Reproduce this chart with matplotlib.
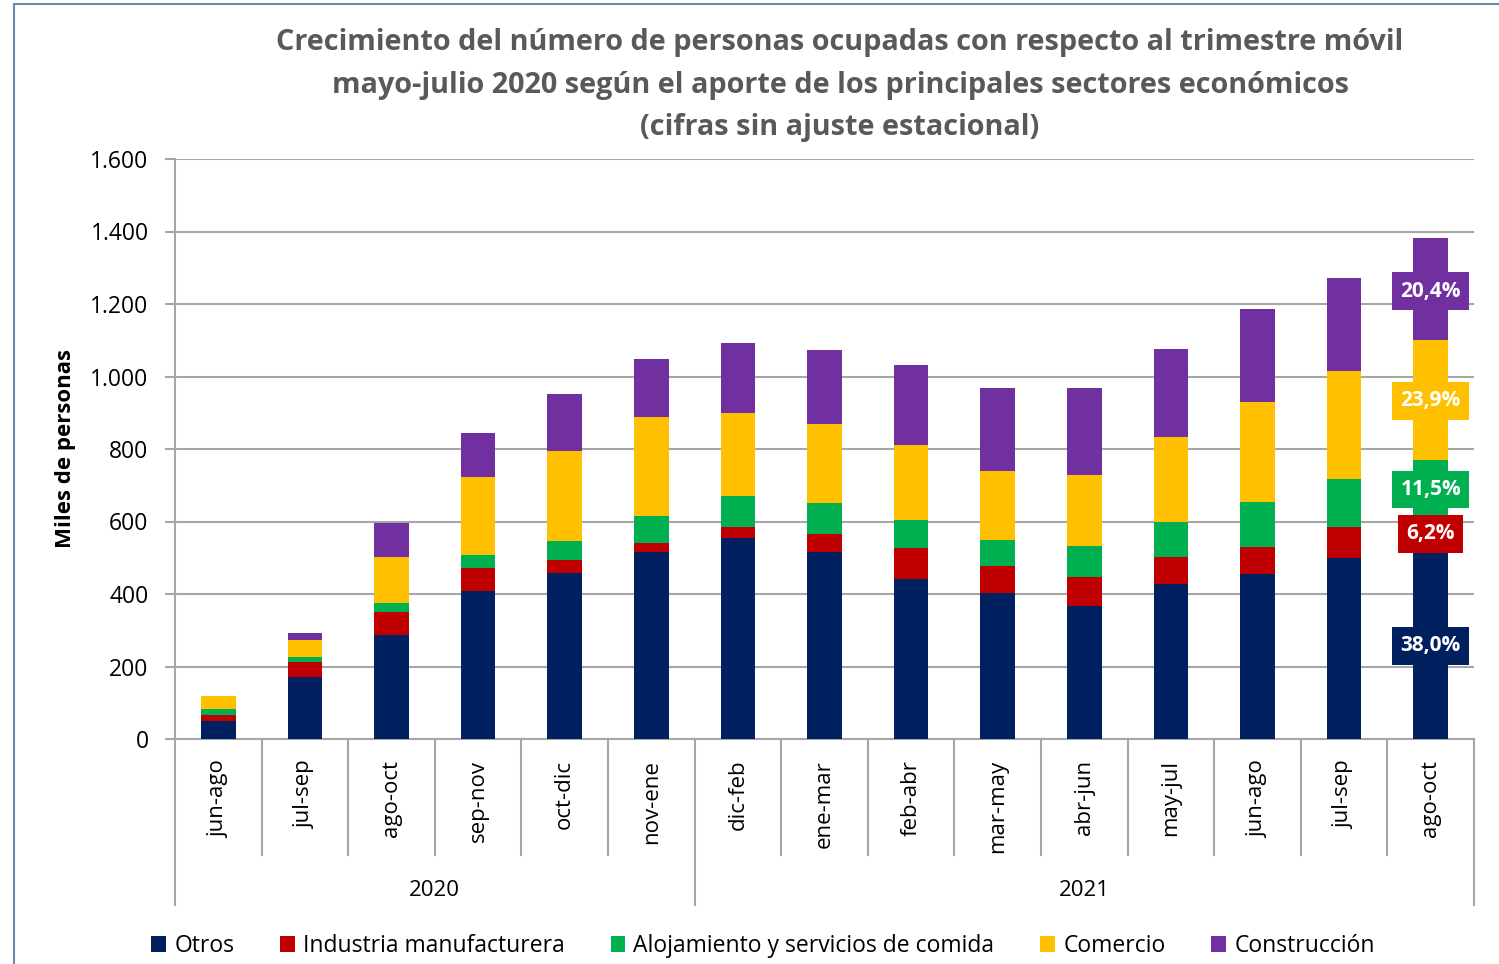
import numpy as np
import matplotlib
matplotlib.use('Agg')
import matplotlib.pyplot as plt
from matplotlib.patches import Rectangle, Patch
from matplotlib.ticker import FuncFormatter

plt.rcParams['font.family'] = ['Open Sans', 'DejaVu Sans']

# trimestres moviles
periodos = ['jun-ago', 'jul-sep', 'ago-oct', 'sep-nov', 'oct-dic', 'nov-ene',
            'dic-feb', 'ene-mar', 'feb-abr', 'mar-may', 'abr-jun', 'may-jul',
            'jun-ago', 'jul-sep', 'ago-oct']
anios = ['2020', '2021']
n_2020 = 6

# miles de personas
otros = [50, 170, 288, 409, 457, 515, 554, 516, 441, 402, 367, 428, 455, 499, 525]
industria = [15, 42, 61, 63, 36, 25, 30, 50, 85, 75, 81, 73, 76, 85, 86]
alojamiento = [18, 13, 27, 35, 54, 74, 86, 86, 77, 71, 84, 99, 122, 132, 159]
comercio = [36, 47, 127, 216, 248, 273, 230, 218, 208, 190, 196, 232, 276, 298, 330]
construccion = [0, 21, 93, 120, 156, 160, 193, 204, 220, 230, 239, 243, 256, 257, 282]

series = ['Otros', 'Industria manufacturera', 'Alojamiento y servicios de comida',
          'Comercio', 'Construcción']
colores = ['#002060', '#C00000', '#00B050', '#FFC000', '#7030A0']

# participacion ultimo periodo
etiquetas = ['38,0%', '6,2%', '11,5%', '23,9%', '20,4%']
pos_etiq = [257, 566, 688, 933, 1235]

fig = plt.figure(figsize=(14.99, 9.64), dpi=100)
ax = fig.add_axes([175/1499, 1-739/964, (1474-175)/1499, (739-159)/964])

# marco exterior
fig.patches.append(Rectangle((14/1499, -0.1), 1.2, 1-4/964+0.1, transform=fig.transFigure,
                             fill=False, edgecolor='#6E87B5', lw=1.5))

x = np.arange(len(periodos))
datos = [otros, industria, alojamiento, comercio, construccion]
base = np.zeros(len(periodos))
for vals, nom, col in zip(datos, series, colores):
    vals = np.array(vals, dtype=float)
    ax.bar(x, vals, 0.4, bottom=base, color=col, label=nom, zorder=3)
    base = base + vals

for txt, yv, col in zip(etiquetas, pos_etiq, colores):
    ax.text(x[-1], yv, txt, ha='center', va='center', color='white', fontsize=15,
            fontweight='bold', zorder=5,
            bbox=dict(boxstyle='square,pad=0.4', facecolor=col, edgecolor='none'))

ax.set_xlim(-0.5, len(periodos) - 0.5)
ax.set_ylim(0, 1600)
ax.set_yticks(np.arange(0, 1601, 200))
ax.yaxis.set_major_formatter(FuncFormatter(lambda v, p: f'{int(v):,}'.replace(',', '.')))
ax.grid(axis='y', color='#A6A6A6', lw=1.5, zorder=0)
ax.tick_params(axis='y', labelsize=16.5, length=7, color='#A6A6A6', width=1.5, pad=12)
for s in ['top', 'right']:
    ax.spines[s].set_visible(False)
ax.spines['left'].set_color('#A6A6A6')
ax.spines['bottom'].set_color('#A6A6A6')
ax.spines['left'].set_linewidth(1.5)
ax.spines['bottom'].set_linewidth(1.5)

ax.set_xticks(x)
ax.set_xticklabels(periodos, rotation=90, fontsize=16)
ax.tick_params(axis='x', length=0, pad=15)

trans = ax.get_xaxis_transform()
for i in range(1, len(periodos)):
    if i == n_2020:
        continue
    ax.plot([i - 0.5, i - 0.5], [0, -116/580], transform=trans, color='#A6A6A6',
            lw=1.5, clip_on=False)
for xv in [-0.5, n_2020 - 0.5, len(periodos) - 0.5]:
    ax.plot([xv, xv], [0, -166/580], transform=trans, color='#A6A6A6', lw=1.5,
            clip_on=False)
ax.text((n_2020 - 1) / 2, -152/580, anios[0], transform=trans, ha='center',
        va='center', fontsize=16)
ax.text((n_2020 + len(periodos) - 1) / 2, -152/580, anios[1], transform=trans,
        ha='center', va='center', fontsize=16)

ax.set_ylabel('Miles de personas', fontsize=16, fontweight='bold', labelpad=10)

fig.text(840/1499, 1-85/964,
         'Crecimiento del número de personas ocupadas con respecto al trimestre móvil\n'
         'mayo-julio 2020 según el aporte de los principales sectores económicos\n'
         '(cifras sin ajuste estacional)',
         ha='center', va='center', fontsize=20.8, fontweight='bold', color='#595959',
         linespacing=1.6)

handles = [Patch(facecolor=c, label=s) for s, c in zip(series, colores)]
fig.legend(handles=handles, loc='center', bbox_to_anchor=(763/1499, 1-946/964), ncol=5,
           frameon=False, fontsize=16.5, handlelength=0.65, handleheight=0.65,
           handletextpad=0.35, columnspacing=2.0)

fig.savefig('out.png', dpi=100)
